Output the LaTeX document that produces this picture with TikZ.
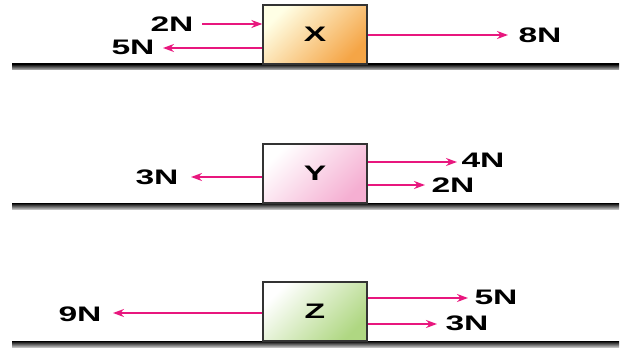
\documentclass[tikz,border=0pt]{standalone}
\usepackage{fontspec}
\setmainfont{Liberation Sans}
\usepackage{graphicx}
\usetikzlibrary{arrows.meta}
\definecolor{force}{HTML}{E8177E}
\definecolor{boxedge}{HTML}{333333}
\tikzset{
  force/.style={draw=force, line width=1.6pt, -{Stealth[length=11pt,width=8pt]}},
  lbl/.style={inner sep=0pt, font=\fontsize{21}{21}\selectfont\bfseries},
  block/.style={draw=boxedge, line width=1.3pt, minimum width=104pt, minimum height=59pt,
     inner sep=0pt, font=\fontsize{21}{21}\selectfont\bfseries},
  diag/.style={shading angle=45},
  ground/.style={top color=black, bottom color=black!25, draw=none}
}
\newcommand{\wtxt}[1]{\scalebox{1.6}[1]{#1}}
\begin{document}
\begin{tikzpicture}[x=1pt,y=-1pt]
\useasboundingbox (0,0) rectangle (627,353);
% ground lines
\shade[ground] (12,64) rectangle (619,70);
\shade[ground] (12,203) rectangle (619,209);
\shade[ground] (12,341) rectangle (619,347);
% blocks
\node[block, top color=white!90!yellow, bottom color={rgb,255:red,245;green,165;blue,70}, diag] (X) at (315,34.5) {\wtxt{X}};
\node[block, top color=white, bottom color={rgb,255:red,245;green,175;blue,210}, diag] (Y) at (315,173.5) {\wtxt{Y}};
\node[block, top color=white, bottom color={rgb,255:red,175;green,215;blue,130}, diag] (Z) at (315,311.5) {\wtxt{Z}};
% X forces
\node[lbl] (x2) at (172,24.5) {\wtxt{2N}};
\node[lbl] (x5) at (133,47.5) {\wtxt{5N}};
\node[lbl] (x8) at (540,35) {\wtxt{8N}};
\coordinate (x2s) at (202,24);
\coordinate (x5e) at (163,48);
\coordinate (x8e) at (508,35);
\draw[force] (x2s) -- (X.west |- x2s);
\draw[force] (X.west |- x5e) -- (x5e);
\draw[force] (X.east |- x8e) -- (x8e);
% Y forces
\node[lbl] (y4) at (483,160) {\wtxt{4N}};
\node[lbl] (y2) at (453,185) {\wtxt{2N}};
\node[lbl] (y3) at (157,177) {\wtxt{3N}};
\coordinate (y4e) at (457,162);
\coordinate (y2e) at (425,185);
\coordinate (y3e) at (191,177);
\draw[force] (Y.east |- y4e) -- (y4e);
\draw[force] (Y.east |- y2e) -- (y2e);
\draw[force] (Y.west |- y3e) -- (y3e);
% Z forces
\node[lbl] (z5) at (496,297) {\wtxt{5N}};
\node[lbl] (z3) at (467,323) {\wtxt{3N}};
\node[lbl] (z9) at (80,314) {\wtxt{9N}};
\coordinate (z5e) at (468,298);
\coordinate (z3e) at (437,324);
\coordinate (z9e) at (113,313);
\draw[force] (Z.east |- z5e) -- (z5e);
\draw[force] (Z.east |- z3e) -- (z3e);
\draw[force] (Z.west |- z9e) -- (z9e);
\end{tikzpicture}
\end{document}
